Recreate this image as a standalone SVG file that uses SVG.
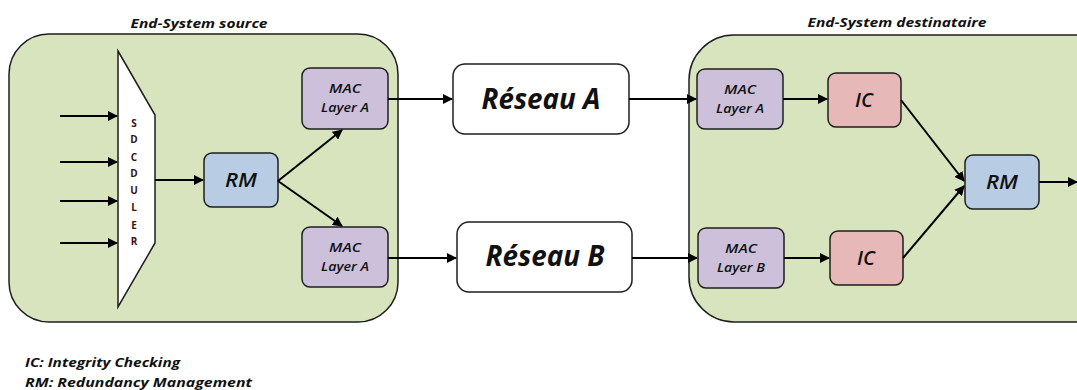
<svg xmlns="http://www.w3.org/2000/svg" width="1077" height="390" viewBox="0 0 1077 390">
<defs>
<marker id="ah" viewBox="0 0 10 10" refX="9" refY="5" markerWidth="5" markerHeight="5" orient="auto" markerUnits="strokeWidth">
<path d="M0,0 L10,5 L0,10 z" fill="#000"/>
</marker>
<style>
.cont{fill:#d7e4bd;stroke:#1e1e1e;stroke-width:1.5}
.mac{fill:#ccc0da;stroke:#1e1e1e;stroke-width:1.5}
.rm{fill:#b8cce4;stroke:#1e1e1e;stroke-width:1.5}
.ic{fill:#e6b8b7;stroke:#1e1e1e;stroke-width:1.5}
.net{fill:#fff;stroke:#1e1e1e;stroke-width:1.5}
text{font-family:"Open Sans","Liberation Sans",sans-serif;font-style:italic;font-weight:bold;fill:#111}
.t{font-size:13px}
.m{font-size:13px;text-anchor:middle;font-weight:600}
.big{font-size:20px;text-anchor:middle;font-weight:600}
.net-t{font-size:28px;text-anchor:middle}
.sch{font-size:10px;font-style:normal;text-anchor:middle;fill:#3a1010}
.c{stroke:#000;stroke-width:2;fill:none;marker-end:url(#ah)}
</style>
</defs>
<rect width="1077" height="390" fill="#fff"/>
<g id="source">
<rect class="cont" x="9" y="34" width="389" height="288" rx="40"/>
<text class="t" x="199" y="28" text-anchor="middle" textLength="137" lengthAdjust="spacingAndGlyphs">End-System source</text>
</g>
<g id="dest">
<rect class="cont" x="689" y="35" width="430" height="287" rx="45"/>
<text class="t" x="897" y="27" text-anchor="middle" textLength="179" lengthAdjust="spacingAndGlyphs">End-System destinataire</text>
</g>
<g id="scheduler">
<polygon points="118,51 155,115 155,243 118,307" fill="#fff" stroke="#1e1e1e" stroke-width="1.5"/>
<text class="sch" x="134" y="127">S</text>
<text class="sch" x="134" y="143">D</text>
<text class="sch" x="134" y="161">C</text>
<text class="sch" x="134" y="177">D</text>
<text class="sch" x="134" y="194">U</text>
<text class="sch" x="134" y="211">L</text>
<text class="sch" x="134" y="229">E</text>
<text class="sch" x="134" y="245">R</text>
</g>
<g id="rm-src">
<rect class="rm" x="204" y="153" width="74" height="54" rx="8"/>
<text class="big" x="241" y="187" textLength="32" lengthAdjust="spacingAndGlyphs">RM</text>
</g>
<g id="mac-src-a">
<rect class="mac" x="302" y="68" width="86" height="61" rx="8"/>
<text class="m" x="345" y="93" textLength="32" lengthAdjust="spacingAndGlyphs">MAC</text>
<text class="m" x="345" y="112" textLength="48" lengthAdjust="spacingAndGlyphs">Layer A</text>
</g>
<g id="mac-src-b">
<rect class="mac" x="302" y="227" width="86" height="60" rx="8"/>
<text class="m" x="345" y="252" textLength="32" lengthAdjust="spacingAndGlyphs">MAC</text>
<text class="m" x="345" y="271" textLength="48" lengthAdjust="spacingAndGlyphs">Layer A</text>
</g>
<g id="reseau-a">
<rect class="net" x="453" y="64" width="176" height="70" rx="12"/>
<text class="net-t" x="541" y="109" textLength="119" lengthAdjust="spacingAndGlyphs">Réseau A</text>
</g>
<g id="reseau-b">
<rect class="net" x="457" y="222" width="175" height="70" rx="12"/>
<text class="net-t" x="545" y="266" textLength="119" lengthAdjust="spacingAndGlyphs">Réseau B</text>
</g>
<g id="mac-dst-a">
<rect class="mac" x="697" y="69" width="86" height="60" rx="8"/>
<text class="m" x="740" y="94" textLength="32" lengthAdjust="spacingAndGlyphs">MAC</text>
<text class="m" x="740" y="113" textLength="48" lengthAdjust="spacingAndGlyphs">Layer A</text>
</g>
<g id="mac-dst-b">
<rect class="mac" x="698" y="228" width="86" height="60" rx="8"/>
<text class="m" x="741" y="253" textLength="32" lengthAdjust="spacingAndGlyphs">MAC</text>
<text class="m" x="741" y="272" textLength="48" lengthAdjust="spacingAndGlyphs">Layer B</text>
</g>
<g id="ic-a">
<rect class="ic" x="828" y="73" width="73" height="54" rx="8"/>
<text class="big" x="864" y="107">IC</text>
</g>
<g id="ic-b">
<rect class="ic" x="830" y="231" width="73" height="54" rx="8"/>
<text class="big" x="866" y="265">IC</text>
</g>
<g id="rm-dst">
<rect class="rm" x="965" y="155" width="74" height="54" rx="8"/>
<text class="big" x="1002" y="189" textLength="32" lengthAdjust="spacingAndGlyphs">RM</text>
</g>
<g id="connectors">
<line class="c" x1="60" y1="116" x2="117" y2="116"/>
<line class="c" x1="60" y1="162" x2="117" y2="162"/>
<line class="c" x1="60" y1="201" x2="117" y2="201"/>
<line class="c" x1="60" y1="243" x2="117" y2="243"/>
<line class="c" x1="155" y1="180" x2="203" y2="180"/>
<line class="c" x1="278" y1="181" x2="342" y2="130"/>
<line class="c" x1="278" y1="181" x2="342" y2="226"/>
<line class="c" x1="388" y1="99" x2="452" y2="99"/>
<line class="c" x1="388" y1="258" x2="456" y2="258"/>
<line class="c" x1="629" y1="99" x2="696" y2="99"/>
<line class="c" x1="632" y1="258" x2="697" y2="258"/>
<line class="c" x1="783" y1="99" x2="827" y2="99"/>
<line class="c" x1="784" y1="258" x2="829" y2="258"/>
<line class="c" x1="901" y1="100" x2="964" y2="181"/>
<line class="c" x1="903" y1="258" x2="964" y2="186"/>
<line class="c" x1="1039" y1="182" x2="1077" y2="182"/>
</g>
<g id="legend">
<text class="t" x="25" y="367" textLength="155" lengthAdjust="spacingAndGlyphs">IC: Integrity Checking</text>
<text class="t" x="25" y="387" textLength="227" lengthAdjust="spacingAndGlyphs">RM: Redundancy Management</text>
</g>
</svg>
